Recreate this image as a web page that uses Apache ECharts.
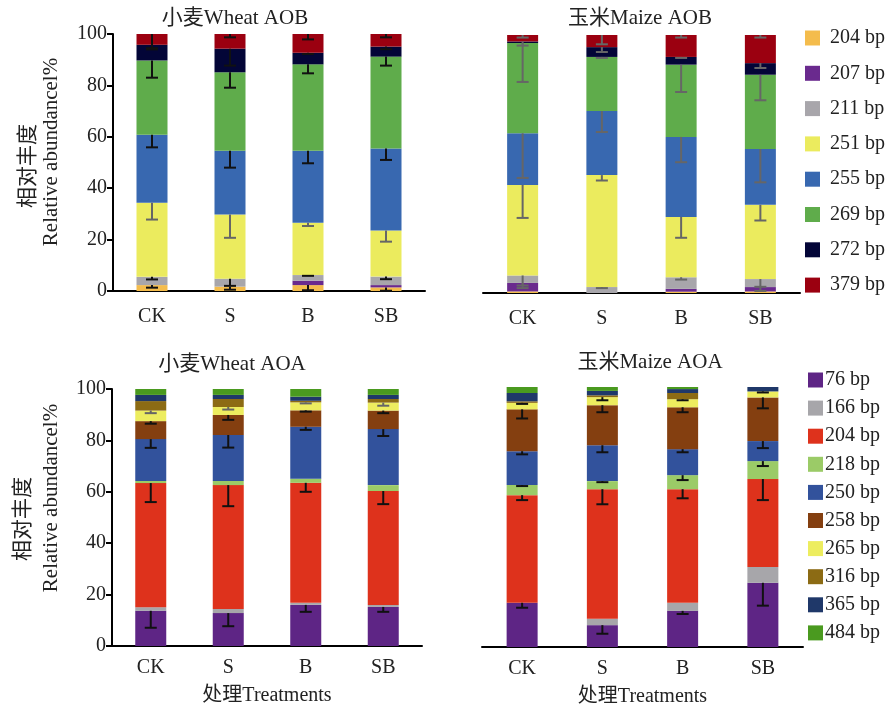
<!DOCTYPE html>
<html>
<head>
<meta charset="utf-8">
<script src="https://cdn.jsdelivr.net/npm/echarts@6/dist/echarts.min.js"></script>
<style>
  html, body { margin: 0; padding: 0; background: #fff; }
  #main { width: 889px; height: 708px; }
</style>
</head>
<body>
<div id="main"></div>
<script>
// 处理
const categories = ['CK', 'S', 'B', 'SB'];

// AOB 片段 (bp)
const aobNames = ['204 bp', '207 bp', '211 bp', '251 bp', '255 bp', '269 bp', '272 bp', '379 bp'];
const aobColors = ['#F4BC4C', '#6A2A8E', '#A8A6AB', '#EBEB5E', '#3868B0', '#5FAC4B', '#030537', '#9B0010'];

const wheatAob = [
    [2.3, 1.7, 2.3, 1.4],
    [0, 0, 1.7, 0.9],
    [3.2, 3.1, 2.2, 3.3],
    [28.8, 25.0, 20.4, 17.9],
    [26.5, 24.8, 28.0, 31.9],
    [28.9, 30.5, 33.6, 35.8],
    [6.1, 9.2, 4.5, 3.9],
    [4.2, 5.7, 7.3, 4.9]
];
const wheatAobErr = [
    [1.0, 1.2, 2.0, 1.3],
    [0, 0, 0, 0],
    [1.0, 2.8, 0.3, 1.0],
    [6.5, 9.1, 1.3, 4.3],
    [4.9, 6.6, 4.9, 4.4],
    [6.7, 6.0, 3.5, 3.5],
    [1.8, 6.6, 0.5, 1.0],
    [5.5, 1.3, 2.1, 1.3]
];
const wheatAobErrColor = ['#111', '#111', '#111', '#666', '#111', '#111', '#111', '#111'];

const maizeAob = [
    [0.6, 0, 0.5, 0.6],
    [3.3, 0, 1.1, 1.7],
    [2.9, 2.3, 4.5, 3.1],
    [35.1, 43.4, 23.4, 28.8],
    [20.0, 24.8, 31.0, 21.6],
    [35.0, 21.0, 28.0, 28.8],
    [0.6, 3.8, 3.0, 4.5],
    [2.5, 4.7, 8.5, 10.9]
];
const maizeAobErr = [
    [0, 0, 0, 0],
    [2.0, 0, 0, 1.5],
    [3.9, 0.4, 0.9, 3.0],
    [12.8, 2.1, 8.1, 6.1],
    [17.3, 8.1, 9.8, 12.9],
    [15.1, 0.4, 10.6, 9.9],
    [1.6, 1.9, 0.4, 1.9],
    [1.0, 3.6, 1.0, 1.0]
];
const maizeAobErrColor = ['#666', '#666', '#666', '#666', '#666', '#666', '#666', '#666'];

// AOA 片段 (bp)
const aoaNames = ['76 bp', '166 bp', '204 bp', '218 bp', '250 bp', '258 bp', '265 bp', '316 bp', '365 bp', '484 bp'];
const aoaColors = ['#5E2585', '#A7A6AA', '#DE321C', '#9BCB67', '#32529C', '#843F10', '#EDED5F', '#8C6B14', '#1F3869', '#4A9A1F'];

const wheatAoa = [
    [13.7, 12.8, 16.0, 15.2],
    [1.4, 1.6, 0.8, 0.8],
    [48.3, 48.2, 46.7, 44.3],
    [0.8, 1.6, 1.6, 2.3],
    [16.3, 17.9, 20.2, 21.8],
    [7.0, 7.8, 6.4, 7.2],
    [4.1, 3.1, 3.1, 3.1],
    [3.7, 3.1, 0.6, 1.4],
    [2.4, 1.6, 1.6, 1.6],
    [2.3, 2.3, 3.1, 2.3]
];
const wheatAoaErr = [
    [6.6, 5.1, 2.7, 1.9],
    [0, 0, 0, 0],
    [7.4, 8.2, 3.5, 5.1],
    [0, 0, 0, 0],
    [3.4, 4.9, 1.2, 2.7],
    [1.0, 1.9, 0.5, 1.0],
    [1.0, 1.0, 0.4, 1.2],
    [0, 0, 0, 0],
    [0, 0, 0, 0],
    [0, 0, 0, 0]
];
const wheatAoaErrColor = ['#111', '#111', '#111', '#111', '#111', '#111', '#666', '#111', '#111', '#111'];

const maizeAoa = [
    [17.0, 8.4, 13.9, 24.7],
    [0, 2.5, 3.1, 6.1],
    [41.4, 49.8, 43.7, 33.8],
    [3.9, 3.1, 5.4, 6.9],
    [13.0, 13.8, 10.0, 7.7],
    [16.1, 15.4, 16.1, 16.8],
    [2.5, 3.1, 3.1, 2.3],
    [0.6, 0.7, 2.4, 0],
    [3.2, 1.7, 1.5, 1.7],
    [2.3, 1.5, 0.8, 0]
];
const maizeAoaErr = [
    [1.9, 3.3, 1.2, 8.8],
    [0, 0, 0, 0],
    [1.9, 5.8, 3.5, 8.1],
    [0.4, 0.4, 1.9, 1.9],
    [1.2, 2.7, 1.2, 2.7],
    [3.5, 2.7, 1.9, 4.2],
    [0.4, 1.2, 0.4, 0.4],
    [0, 0, 0, 0],
    [0, 0, 0, 0],
    [0, 0, 0, 0]
];
const maizeAoaErrColor = ['#111', '#111', '#111', '#111', '#111', '#111', '#111', '#111', '#111', '#111'];

const serif = '"Liberation Serif", "Times New Roman", "Noto Sans CJK SC", serif';

const chart = echarts.init(document.getElementById('main'), null, { renderer: 'canvas' });

const grids = [
    { left: 113, top: 34, width: 312, height: 257 },
    { left: 483, top: 35, width: 317, height: 258 },
    { left: 112, top: 389, width: 310, height: 257 },
    { left: 482, top: 387, width: 321, height: 261 }
];

function makeXAxis(idx, margin, withName) {
    return {
        type: 'category',
        gridIndex: idx,
        data: categories,
        axisLine: { lineStyle: { color: '#000', width: 2 } },
        axisTick: { show: false },
        axisLabel: { color: '#222', fontSize: 20, fontFamily: serif, margin: margin },
        name: withName ? '处理Treatments' : '',
        nameLocation: 'middle',
        nameGap: 40,
        nameTextStyle: { color: '#222', fontSize: 20, fontFamily: serif }
    };
}

function makeYAxis(idx, visible) {
    return {
        type: 'value',
        gridIndex: idx,
        min: 0,
        max: 100,
        interval: 20,
        show: visible,
        splitLine: { show: false },
        axisLine: { show: true, lineStyle: { color: '#000', width: 2 } },
        axisTick: { show: true, length: 6, lineStyle: { color: '#000', width: 2 } },
        axisLabel: { color: '#222', fontSize: 20, fontFamily: serif, margin: 6 }
    };
}

const series = [];

function addPanel(idx, names, colors, values, errs, errColors) {
    const tops = [0, 0, 0, 0];
    const errItems = [];
    names.forEach((name, i) => {
        series.push({
            type: 'bar',
            name: name,
            stack: 'p' + idx,
            xAxisIndex: idx,
            yAxisIndex: idx,
            barWidth: 31,
            itemStyle: { color: colors[i] },
            data: values[i]
        });
        values[i].forEach((v, c) => {
            tops[c] += v;
            if (errs[i][c] > 0) {
                errItems.push({ value: [c, tops[c], errs[i][c]], color: errColors[i] });
            }
        });
    });
    series.push({
        type: 'custom',
        xAxisIndex: idx,
        yAxisIndex: idx,
        z: 10,
        data: errItems.map(d => d.value),
        renderItem: function (params, api) {
            const item = errItems[params.dataIndex];
            const p1 = api.coord([api.value(0), api.value(1)]);
            const p2 = api.coord([api.value(0), api.value(1) - api.value(2)]);
            const style = { stroke: item.color, lineWidth: 2 };
            return {
                type: 'group',
                children: [
                    { type: 'line', shape: { x1: p1[0], y1: p1[1], x2: p2[0], y2: p2[1] }, style: style },
                    { type: 'line', shape: { x1: p2[0] - 6, y1: p2[1], x2: p2[0] + 6, y2: p2[1] }, style: style }
                ]
            };
        }
    });
}

addPanel(0, aobNames, aobColors, wheatAob, wheatAobErr, wheatAobErrColor);
addPanel(1, aobNames, aobColors, maizeAob, maizeAobErr, maizeAobErrColor);
addPanel(2, aoaNames, aoaColors, wheatAoa, wheatAoaErr, wheatAoaErrColor);
addPanel(3, aoaNames, aoaColors, maizeAoa, maizeAoaErr, maizeAoaErrColor);

function textEl(text, x, y, rot) {
    return {
        type: 'text',
        x: x,
        y: y,
        rotation: rot || 0,
        style: {
            text: text,
            font: '21px ' + serif,
            fill: '#222',
            align: 'center',
            verticalAlign: 'middle'
        }
    };
}

const option = {
    backgroundColor: '#fff',
    animation: false,
    grid: grids,
    xAxis: [makeXAxis(0, 16, false), makeXAxis(1, 16, false), makeXAxis(2, 12, true), makeXAxis(3, 12, true)],
    yAxis: [makeYAxis(0, true), makeYAxis(1, false), makeYAxis(2, true), makeYAxis(3, false)],
    legend: [
        {
            orient: 'vertical',
            left: 805,
            top: 28,
            padding: 0,
            icon: 'rect',
            itemWidth: 15,
            itemHeight: 15,
            itemGap: 15.3,
            selectedMode: false,
            textStyle: { color: '#222', fontSize: 20, fontFamily: serif, padding: [0, 0, 0, 5] },
            data: aobNames.map((n, i) => ({ name: n, itemStyle: { color: aobColors[i] } }))
        },
        {
            orient: 'vertical',
            left: 808,
            top: 370,
            padding: 0,
            icon: 'rect',
            itemWidth: 15,
            itemHeight: 15,
            itemGap: 8.1,
            selectedMode: false,
            textStyle: { color: '#222', fontSize: 20, fontFamily: serif, padding: [0, 0, 0, -3] },
            data: aoaNames.map((n, i) => ({ name: n, itemStyle: { color: aoaColors[i] } }))
        }
    ],
    graphic: [
        textEl('小麦Wheat AOB', 235, 18),
        textEl('玉米Maize AOB', 640, 18),
        textEl('小麦Wheat AOA', 232, 364),
        textEl('玉米Maize AOA', 650, 362),
        textEl('相对丰度', 28, 166, Math.PI / 2),
        textEl('Relative abundancel%', 51, 152, Math.PI / 2),
        textEl('相对丰度', 23, 519, Math.PI / 2),
        textEl('Relative abundancel%', 51, 498, Math.PI / 2)
    ],
    series: series
};

chart.setOption(option);
</script>
</body>
</html>
